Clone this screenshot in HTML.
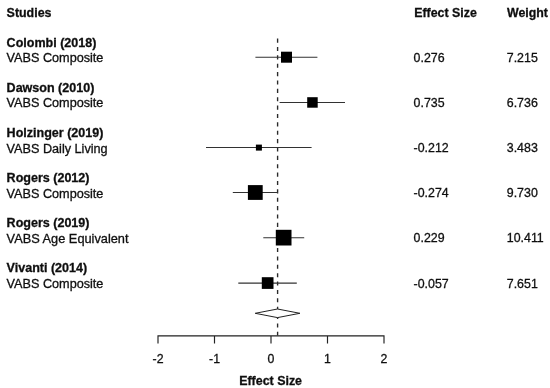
<!DOCTYPE html>
<html><head><meta charset="utf-8"><title>Forest plot</title>
<style>
html,body{margin:0;padding:0;background:#fff;}
body{width:550px;height:388px;overflow:hidden;}
svg{display:block;}
text{font-family:"Liberation Sans",Arial,Helvetica,sans-serif;font-size:12.3px;fill:#111;stroke:#111;stroke-width:0.3px;}
.b{font-weight:bold;}
</style></head><body>
<svg width="550" height="388" viewBox="0 0 550 388">
<defs><filter id="soft" x="0" y="0" width="550" height="388" filterUnits="userSpaceOnUse"><feGaussianBlur stdDeviation="0.4"/></filter></defs>
<rect width="550" height="388" fill="#fff"/>
<g filter="url(#soft)">

<text class="b" transform="translate(6.60,17.10) scale(1.01,1)">Studies</text>
<text class="b" transform="translate(414.20,17.10) scale(1.007,1)">Effect Size</text>
<text class="b" transform="translate(507.00,17.10) scale(1.005,1)">Weight</text>
<line x1="277.6" y1="38.6" x2="277.6" y2="335.5" stroke="#2a2a2a" stroke-width="1.35" stroke-dasharray="4.1,4.276"/>
<text class="b" transform="translate(6.60,46.80) scale(1.02,1)">Colombi (2018)</text>
<text transform="translate(6.60,62.30) scale(1.03,1)">VABS Composite</text>
<text transform="translate(413.60,62.05) scale(1.008,1)">0.276</text>
<text transform="translate(506.80,62.05) scale(1.008,1)">7.215</text>
<line x1="255.4" y1="57.2" x2="317.4" y2="57.2" stroke="#333" stroke-width="1.05"/>
<rect x="281.0" y="51.7" width="11" height="11" fill="#000"/>
<text class="b" transform="translate(6.60,91.90) scale(1.02,1)">Dawson (2010)</text>
<text transform="translate(6.60,107.40) scale(1.03,1)">VABS Composite</text>
<text transform="translate(413.60,107.15) scale(1.008,1)">0.735</text>
<text transform="translate(506.80,107.15) scale(1.008,1)">6.736</text>
<line x1="279.6" y1="102.45" x2="345" y2="102.45" stroke="#333" stroke-width="1.05"/>
<rect x="307.2" y="97.2" width="10.5" height="10.5" fill="#000"/>
<text class="b" transform="translate(6.60,137.00) scale(1.02,1)">Holzinger (2019)</text>
<text transform="translate(6.60,152.50) scale(1.03,1)">VABS Daily Living</text>
<text transform="translate(413.60,152.25) scale(1.008,1)">-0.212</text>
<text transform="translate(506.80,152.25) scale(1.008,1)">3.483</text>
<line x1="206" y1="147.55" x2="311.6" y2="147.55" stroke="#333" stroke-width="1.05"/>
<rect x="255.9" y="144.6" width="6" height="6" fill="#000"/>
<text class="b" transform="translate(6.60,182.10) scale(1.02,1)">Rogers (2012)</text>
<text transform="translate(6.60,197.60) scale(1.03,1)">VABS Composite</text>
<text transform="translate(413.60,197.35) scale(1.008,1)">-0.274</text>
<text transform="translate(506.80,197.35) scale(1.008,1)">9.730</text>
<line x1="232.8" y1="192.5" x2="277.9" y2="192.5" stroke="#333" stroke-width="1.05"/>
<rect x="247.9" y="185.1" width="14.8" height="14.8" fill="#000"/>
<text class="b" transform="translate(6.60,227.20) scale(1.02,1)">Rogers (2019)</text>
<text transform="translate(6.60,242.70) scale(1.04,1)">VABS Age Equivalent</text>
<text transform="translate(413.60,242.45) scale(1.008,1)">0.229</text>
<text transform="translate(506.80,242.45) scale(1.008,1)">10.411</text>
<line x1="263.3" y1="237.65" x2="304.2" y2="237.65" stroke="#333" stroke-width="1.05"/>
<rect x="275.8" y="229.8" width="15.7" height="15.7" fill="#000"/>
<text class="b" transform="translate(6.60,272.30) scale(1.02,1)">Vivanti (2014)</text>
<text transform="translate(6.60,287.80) scale(1.03,1)">VABS Composite</text>
<text transform="translate(413.60,287.55) scale(1.008,1)">-0.057</text>
<text transform="translate(506.80,287.55) scale(1.008,1)">7.651</text>
<line x1="238.3" y1="283.1" x2="296.8" y2="283.1" stroke="#333" stroke-width="1.05"/>
<rect x="261.8" y="277.2" width="11.7" height="11.7" fill="#000"/>
<polygon points="255.2,313.3 277.5,309 299.9,313.3 277.5,317.6" fill="#fff" stroke="#222" stroke-width="1"/>
<path d="M158,343.5 V335.85 H384 V343.5 M214.5,335.85 V343.5 M271,335.85 V343.5 M327.5,335.85 V343.5" fill="none" stroke="#222" stroke-width="1.15"/>
<text x="158" y="362.8" text-anchor="middle">-2</text>
<text x="214.5" y="362.8" text-anchor="middle">-1</text>
<text x="271" y="362.8" text-anchor="middle">0</text>
<text x="327.5" y="362.8" text-anchor="middle">1</text>
<text x="384" y="362.8" text-anchor="middle">2</text>
<text class="b" text-anchor="middle" transform="translate(270.60,384.90) scale(1.01,1)">Effect Size</text>
</g></svg></body></html>
